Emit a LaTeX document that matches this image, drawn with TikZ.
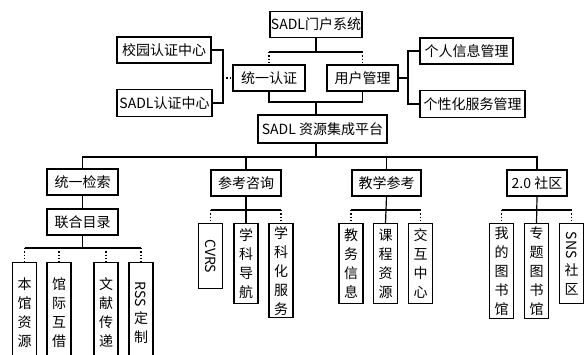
\documentclass[tikz,border=0pt]{standalone}
\usepackage{fontspec}
\usepackage{graphicx}
\newfontfamily\cjk{Noto Sans CJK SC}
\tikzset{
  box/.style={draw, line width=0.9pt, inner sep=0pt, minimum height=19.5pt, font=\cjk\fontsize{10.5pt}{14.25pt}\selectfont},
  vbox/.style={box, anchor=north, minimum width=18pt, align=center},
  link/.style={line width=0.9pt},
  dotlink/.style={line width=0.9pt, dash pattern=on 1pt off 1.5pt}
}
\begin{document}
\begin{tikzpicture}[x=0.75pt,y=0.75pt,yscale=-1,xscale=1]
\useasboundingbox (0,0) rectangle (584,354);
\clip (0,0) rectangle (584,354);

% Text Node
\node[box, minimum width=69pt] (portal) at (316,24.5) {SADL门户系统};
% Text Node
\node[box, minimum width=54pt] (auth) at (269,78) {统一认证};
% Text Node
\node[box, minimum width=53.25pt] (user) at (362.5,78) {用户管理};
% Text Node
\node[box, minimum width=70.5pt] (campus) at (164,50) {校园认证中心};
% Text Node
\node[box, minimum width=71.25pt, minimum height=20.25pt] (sadlauth) at (164.5,103) {SADL认证中心};
% Text Node
\node[box, minimum width=69.75pt] (info) at (466.5,51) {个人信息管理};
% Text Node
\node[box, minimum width=78.75pt, minimum height=20.25pt] (service) at (472.5,104) {个性化服务管理};
% Text Node
\node[box, minimum width=96.75pt, minimum height=21pt] (platform) at (322.5,129) {SADL 资源集成平台};

% Text Node
\node[box, minimum width=53.25pt] (search) at (82.5,182) {统一检索};
% Text Node
\node[box, minimum width=52.5pt] (refer) at (246,183) {参考咨询};
% Text Node
\node[box, minimum width=51.75pt] (teach) at (386.5,183) {教学参考};
% Text Node
\node[box, minimum width=45pt] (sns) at (537,183) {2.0 社区};
% Text Node
\node[box, minimum width=53.25pt] (catalog) at (82.5,222) {联合目录};

% Text Node
\node[vbox, minimum height=75pt] (local) at (24.5,262) {本\\馆\\资\\源};
% Text Node
\node[vbox, minimum height=75pt] (loan) at (59,262) {馆\\际\\互\\借};
% Text Node
\node[vbox, minimum height=75pt] (deliver) at (106,262) {文\\献\\传\\递};
% Text Node
\node[vbox, minimum height=75pt] (rss) at (141,262) {\rotatebox{-90}{RSS}\\[3pt]定\\制};

% Text Node
\node[vbox, minimum height=48.75pt] (cvrs) at (210.5,223) {\rotatebox{-90}{CVRS}};
% Text Node
\node[vbox, minimum height=60pt] (guide) at (246,223) {学\\科\\导\\航};
% Text Node
\node[vbox, minimum height=70.5pt] (subject) at (281,223) {学\\科\\化\\服\\务};

% Text Node
\node[vbox, minimum height=60pt] (affairs) at (351,223) {教\\务\\信\\息};
% Text Node
\node[vbox, minimum height=60pt] (course) at (385.5,223) {课\\程\\资\\源};
% Text Node
\node[vbox, minimum height=60pt] (inter) at (420.5,223) {交\\互\\中\\心};

% Text Node
\node[vbox, minimum height=71.25pt] (mylib) at (501.5,223) {我\\的\\图\\书\\馆};
% Text Node
\node[vbox, minimum height=71.25pt] (topic) at (536.5,223) {专\\题\\图\\书\\馆};
% Text Node
\node[vbox, minimum height=60pt] (snscom) at (571.5,223) {\rotatebox{-90}{SNS}\\[3pt]社\\区};

%Straight Lines
\coordinate (b1) at (316,52);
\draw[link] (portal.south) -- (b1);
\draw[link] (auth.north |- b1) -- (user.north |- b1);
\draw[dotlink] (auth.north |- b1) -- (auth.north);
\draw[dotlink] (user.north |- b1) -- (user.north);

%Straight Lines
\coordinate (b2) at (316,102);
\draw[link] (auth.south) -- (auth.south |- b2) -- (user.south |- b2) -- (user.south);
\draw[link] (b2) -- (b2 |- platform.north);

%Straight Lines
\coordinate (lb) at (223,78);
\draw[link] (campus.east) -| (lb) |- (sadlauth.east);
\draw[dotlink] (lb) -- (auth.west);

%Straight Lines
\coordinate (rb) at (408,78);
\draw[link] (user.east) -- (rb);
\draw[link] (info.west) -| (rb) |- (service.west);

%Straight Lines
\coordinate (b3) at (316,157);
\draw[link] (b3 |- platform.south) -- (b3);
\draw[link] (search.north) -- (search.north |- b3) -- (sns.north |- b3) -- (sns.north);
\draw[link] (refer.north |- b3) -- (refer.north);
\draw[link] (teach.north |- b3) -- (teach.north);
\draw[link] (search.south) -- (catalog.north);

%Straight Lines
\coordinate (b4) at (82.5,248);
\draw[link] (catalog.south) -- (b4);
\draw[link] (local.north |- b4) -- (rss.north |- b4);
\draw[dotlink] (local.north |- b4) -- (local.north);
\draw[dotlink] (loan.north |- b4) -- (loan.north);
\draw[dotlink] (deliver.north |- b4) -- (deliver.north);
\draw[dotlink] (rss.north |- b4) -- (rss.north);

%Straight Lines
\coordinate (b5) at (246,210);
\draw[link] (refer.south) -- (guide.north);
\draw[link] (cvrs.north |- b5) -- (subject.north |- b5);
\draw[dotlink] (cvrs.north |- b5) -- (cvrs.north);
\draw[dotlink] (subject.north |- b5) -- (subject.north);

%Straight Lines
\coordinate (b6) at (385.5,210);
\draw[link] (teach.south) -- (course.north);
\draw[link] (affairs.north |- b6) -- (inter.north |- b6);
\draw[dotlink] (affairs.north |- b6) -- (affairs.north);
\draw[dotlink] (inter.north |- b6) -- (inter.north);

%Straight Lines
\coordinate (b7) at (536.5,210);
\draw[link] (sns.south) -- (topic.north);
\draw[link] (mylib.north |- b7) -- (snscom.north |- b7);
\draw[dotlink] (mylib.north |- b7) -- (mylib.north);
\draw[dotlink] (snscom.north |- b7) -- (snscom.north);

\end{tikzpicture}
\end{document}
